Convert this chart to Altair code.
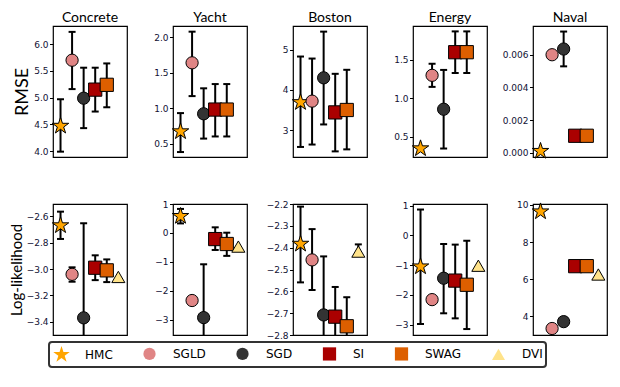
import altair as alt
import pandas as pd

methods = ["HMC", "SGLD", "SGD", "SI", "SWAG", "DVI"]
datasets = ["Concrete", "Yacht", "Boston", "Energy", "Naval"]

rmse_mean = {
    "Concrete": [4.47, 5.70, 4.99, 5.15, 5.24, None],
    "Yacht": [0.67, 1.64, 0.92, 0.98, 0.98, None],
    "Boston": [3.69, 3.72, 4.30, 3.44, 3.50, None],
    "Energy": [0.35, 1.30, 0.86, 1.60, 1.60, None],
    "Naval": [0.0001, 0.0060, 0.00635, 0.00104, 0.00104, None],
}
rmse_lo = {
    "Concrete": [3.99, 5.16, 4.43, 4.74, 4.82, None],
    "Yacht": [0.38, 1.17, 0.57, 0.60, 0.60, None],
    "Boston": [2.58, 2.64, 3.14, 2.47, 2.52, None],
    "Energy": [None, 1.15, 0.35, 1.33, 1.33, None],
    "Naval": [None, None, 0.00529, None, None, None],
}
rmse_hi = {
    "Concrete": [4.97, 6.23, 5.56, 5.56, 5.64, None],
    "Yacht": [0.93, 2.08, 1.28, 1.34, 1.34, None],
    "Boston": [4.83, 4.78, 5.45, 4.40, 4.50, None],
    "Energy": [None, 1.45, 1.37, 1.87, 1.87, None],
    "Naval": [None, None, 0.00742, None, None, None],
}
ll_mean = {
    "Concrete": [-2.67, -3.04, -3.37, -2.99, -3.01, -3.06],
    "Yacht": [0.58, -2.33, -2.92, -0.21, -0.38, -0.47],
    "Boston": [-2.383, -2.456, -2.708, -2.716, -2.76, -2.418],
    "Energy": [-1.05, -2.16, -1.44, -1.52, -1.66, -1.02],
    "Naval": [9.64, 3.34, 3.71, 6.70, 6.70, 6.25],
}
ll_lo = {
    "Concrete": [-2.772, -3.096, -4.09, -3.084, -3.099, None],
    "Yacht": [0.33, None, -4.76, -0.586, -0.79, None],
    "Boston": [-2.559, -2.594, -2.976, -2.852, -2.893, -2.43],
    "Energy": [-2.98, None, -2.62, -2.79, -3.15, None],
    "Naval": [None, None, None, None, None, None],
}
ll_hi = {
    "Concrete": [-2.565, -2.987, -2.653, -2.896, -2.927, None],
    "Yacht": [0.83, None, -1.08, 0.195, 0.01, None],
    "Boston": [-2.212, -2.315, -2.44, -2.58, -2.627, -2.385],
    "Energy": [0.87, None, -0.29, -0.31, -0.18, None],
    "Naval": [None, None, None, None, None, None],
}

rmse_domain = {
    "Concrete": [3.89, 6.34], "Yacht": [0.31, 2.16], "Boston": [2.33, 5.59],
    "Energy": [0.24, 1.94], "Naval": [-0.00026, 0.00776],
}
ll_domain = {
    "Concrete": [-3.50, -2.507], "Yacht": [-3.52, 1.0], "Boston": [-2.8, -2.2],
    "Energy": [-3.35, 1.056], "Naval": [2.99, 10.05],
}
rmse_ticks = {
    "Concrete": [4.0, 4.5, 5.0, 5.5, 6.0], "Yacht": [0.5, 1.0, 1.5, 2.0],
    "Boston": [3, 4, 5], "Energy": [0.5, 1.0, 1.5], "Naval": [0.0, 0.002, 0.004, 0.006],
}
ll_ticks = {
    "Concrete": [-3.4, -3.2, -3.0, -2.8, -2.6], "Yacht": [-3, -2, -1, 0, 1],
    "Boston": [-2.8, -2.7, -2.6, -2.5, -2.4, -2.3, -2.2], "Energy": [-3, -2, -1, 0, 1],
    "Naval": [4, 6, 8, 10],
}
rmse_fmt = {"Concrete": ".1f", "Yacht": ".1f", "Boston": "d", "Energy": ".1f", "Naval": ".3f"}
ll_fmt = {"Concrete": ".1f", "Yacht": "d", "Boston": ".1f", "Energy": "d", "Naval": "d"}

colors = ["#FFA500", "#E08585", "#333333", "#AA0000", "#DD5F00", "#FFE38A"]
STAR = ("M0,-1L0.2245,-0.309L0.951,-0.309L0.363,0.118L0.588,0.809L0,0.382"
        "L-0.588,0.809L-0.363,0.118L-0.951,-0.309L-0.2245,-0.309Z")
shapes = [STAR, "circle", "circle", "square", "square", "triangle-up"]
sizes = [300, 150, 150, 175, 175, 170]

TITLE_FONT = "Lato"
TICK_FONT = "DejaVu Sans"

legend = alt.Legend(
    title=None, orient="none", legendX=-4, legendY=316, direction="horizontal",
    columns=6, labelFont=TICK_FONT, labelFontSize=12, labelColor="black",
    symbolStrokeColor="black", symbolStrokeWidth=1, symbolOpacity=1,
    padding=3, strokeColor="#333333", cornerRadius=3,
    fillColor="white", labelOffset=14, columnPadding=27,
)


def panel(ds, mean, lo, hi, dom, ticks, fmt, title, ytitle, ytitle_size):
    rows = []
    for i, m in enumerate(methods):
        if mean[ds][i] is None:
            continue
        rows.append(dict(method=m, pos=i, val=mean[ds][i], lo=lo[ds][i], hi=hi[ds][i]))
    df = pd.DataFrame(rows)
    base = alt.Chart(df)
    x = alt.X("pos:Q", scale=alt.Scale(domain=[-0.65, 5.75], nice=False, zero=False), axis=None)
    yscale = alt.Scale(domain=dom[ds], nice=False, zero=False)
    yaxis = alt.Axis(values=ticks[ds], format=fmt[ds], title=ytitle, grid=False, domain=False,
                     tickSize=3.5, tickColor="black", labelFont=TICK_FONT, labelFontSize=9,
                     labelColor="#111133", titleFont=TITLE_FONT, titleFontSize=ytitle_size,
                     titleFontWeight="normal", titleColor="black", titlePadding=2,
                     labelPadding=1.5)
    err = base.transform_filter("isValid(datum.lo) && isValid(datum.hi)")
    rule = err.mark_rule(color="black", strokeWidth=2, clip=True).encode(
        x=x, y=alt.Y("lo:Q", scale=yscale, axis=yaxis), y2="hi:Q")
    cap_lo = err.mark_tick(orient="horizontal", color="black", size=7, thickness=2,
                           opacity=1, clip=True).encode(
        x=x, y=alt.Y("lo:Q", scale=yscale, axis=yaxis))
    cap_hi = err.mark_tick(orient="horizontal", color="black", size=7, thickness=2,
                           opacity=1, clip=True).encode(
        x=x, y=alt.Y("hi:Q", scale=yscale, axis=yaxis))
    pts = base.mark_point(filled=True, stroke="black", strokeWidth=1, opacity=1).encode(
        x=x,
        y=alt.Y("val:Q", scale=yscale, axis=yaxis),
        color=alt.Color("method:N", scale=alt.Scale(domain=methods, range=colors), legend=legend),
        shape=alt.Shape("method:N", scale=alt.Scale(domain=methods, range=shapes), legend=legend),
        size=alt.Size("method:N", scale=alt.Scale(type="ordinal", domain=methods, range=sizes),
                      legend=legend),
    )
    props = dict(width=74, height=131)
    if title:
        props["title"] = alt.TitleParams(text=title, font=TITLE_FONT, fontSize=14,
                                         fontWeight="normal", color="black", offset=1)
    return alt.layer(rule, cap_lo, cap_hi, pts).properties(**props)


row1 = []
row2 = []
for j, ds in enumerate(datasets):
    row1.append(panel(ds, rmse_mean, rmse_lo, rmse_hi, rmse_domain, rmse_ticks, rmse_fmt,
                      ds, "RMSE" if j == 0 else None, 18))
    row2.append(panel(ds, ll_mean, ll_lo, ll_hi, ll_domain, ll_ticks, ll_fmt,
                      None, "Log-likelihood" if j == 0 else None, 15))

top = alt.hconcat(*row1, spacing=46, bounds="flush")
bottom = alt.hconcat(*row2, spacing=46, bounds="flush")

chart = alt.vconcat(top, bottom, spacing=38).properties(
    padding={"left": 0, "top": 2, "right": 0, "bottom": 0},
    background="white",
).configure_view(stroke="black", strokeWidth=1.2).configure_axis(
    grid=False
).configure_legend(strokeWidth=2)

chart.save("out.html", embed_options={"renderer": "svg", "actions": False})
